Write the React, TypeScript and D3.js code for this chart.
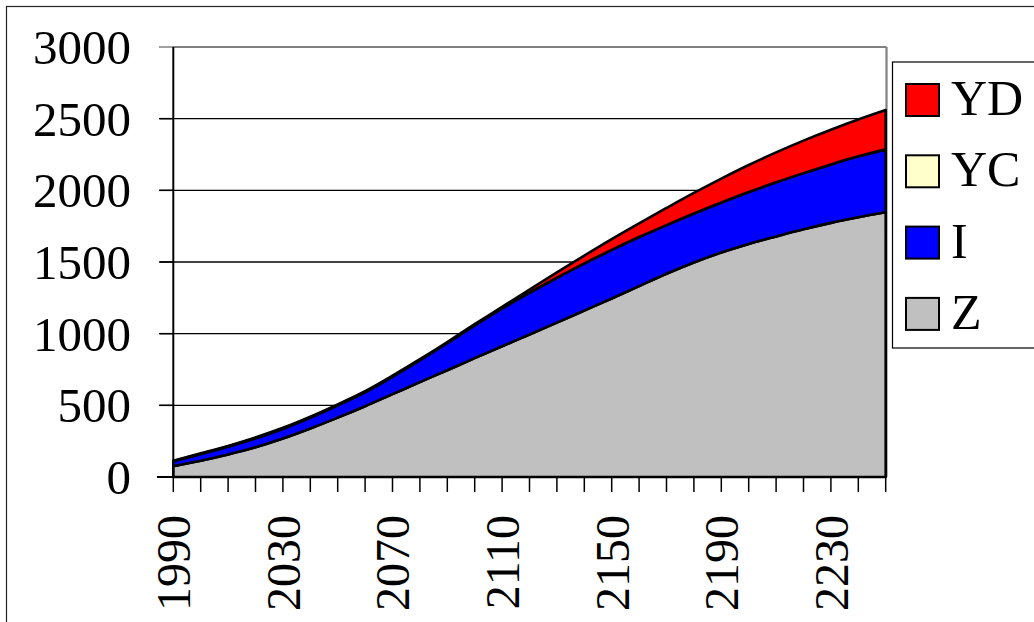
import React from "react";
import * as d3 from "d3";

const years = [1990, 2000, 2010, 2020, 2030, 2040, 2050, 2060, 2070, 2080, 2090, 2100, 2110, 2120, 2130, 2140, 2150, 2160, 2170, 2180, 2190, 2200, 2210, 2220, 2230, 2240, 2250];
const Z = [75, 113, 157, 207, 268, 338, 414, 494, 578, 662, 745, 829, 912, 994, 1077, 1161, 1245, 1332, 1418, 1497, 1566, 1626, 1678, 1728, 1773, 1812, 1847];
const I = [35, 47, 55, 63, 69, 77, 86, 98, 122, 153, 190, 229, 264, 292, 313, 329, 340, 342, 339, 341, 349, 362, 378, 392, 408, 425, 439];
const YC = [0, 0, 0, 0, 0, 0, 0, 0, 0, 0, 0, 0, 0, 0, 0, 0, 0, 0, 0, 0, 0, 0, 0, 0, 0, 0, 0];
const YD = [4, 5, 5, 6, 6, 6, 7, 7, 7, 7, 7, 8, 11, 22, 37, 55, 75, 96, 120, 144, 167, 189, 209, 227, 242, 257, 274];
const yTicks = [0, 500, 1000, 1500, 2000, 2500, 3000];
const xLabels = [1990, 2030, 2070, 2110, 2150, 2190, 2230];
const seriesKeys = ["Z", "I", "YC", "YD"];
const seriesColors: Record<string, string> = { Z: "#C0C0C0", I: "#0000FF", YC: "#FFFFCC", YD: "#FF0000" };
const legendOrder = ["YD", "YC", "I", "Z"];

const FONT = "'Liberation Serif', 'Times New Roman', serif";

export default function App() {
  const x = d3.scaleLinear().domain([1990, 2250]).range([173.3, 885.7]);
  const y = d3.scaleLinear().domain([0, 3000]).range([477, 47]);
  const rows = years.map((yr, i) => ({ year: yr, Z: Z[i], I: I[i], YC: YC[i], YD: YD[i] }));
  const stack = d3.stack<any>().keys(seriesKeys);
  const layers = stack(rows);
  const area = d3
    .area<any>()
    .curve(d3.curveMonotoneX)
    .x((d) => x(d.data.year))
    .y0((d) => y(d[0]))
    .y1((d) => y(d[1]));

  return (
    <svg width={1034} height={622} style={{ position: "absolute", left: 0, top: 0, background: "#fff" }}>
      <rect x={0} y={0} width={1034} height={622} fill="#fff" />
      <rect x={6.5} y={6.5} width={1100} height={700} fill="none" stroke="#222" strokeWidth={1.2} />
      {/* gridlines */}
      {yTicks.slice(1, -1).map((t) => (
        <line key={t} x1={160} x2={885.7} y1={y(t)} y2={y(t)} stroke="#000" strokeWidth={1.3} />
      ))}
      {/* y ticks */}
      {yTicks.map((t) => (
        <line key={"yt" + t} x1={159} x2={173} y1={y(t)} y2={y(t)} stroke={t === 3000 ? "#808080" : "#000"} strokeWidth={1.5} />
      ))}
      {/* plot border top/right */}
      <line x1={173} x2={886.5} y1={47} y2={47} stroke="#808080" strokeWidth={2.2} />
      <line x1={886.5} x2={886.5} y1={47} y2={477} stroke="#808080" strokeWidth={2.2} />
      {/* areas */}
      {layers.map((layer) => (
        <path
          key={layer.key}
          d={area(layer as any) as string}
          fill={seriesColors[layer.key]}
          stroke="#000"
          strokeWidth={2.6}
          strokeLinejoin="round"
        />
      ))}
      {/* axes */}
      <line x1={173.3} x2={173.3} y1={47} y2={477} stroke="#000" strokeWidth={2} />
      <line x1={157} x2={886.5} y1={477} y2={477} stroke="#000" strokeWidth={2} />
      {years.map((yr) => (
        <line key={"xt" + yr} x1={x(yr)} x2={x(yr)} y1={477} y2={492} stroke="#000" strokeWidth={1.5} />
      ))}
      {/* y labels */}
      {yTicks.map((t) => (
        <text key={"yl" + t} x={131} y={y(t)} dy="0.35em" textAnchor="end" fontFamily={FONT} fontSize={49} fill="#000">
          {t}
        </text>
      ))}
      {/* x labels */}
      {xLabels.map((yr) => (
        <text
          key={"xl" + yr}
          transform={`translate(${x(yr)},515) rotate(-90)`}
          dy="0.35em"
          textAnchor="end"
          fontFamily={FONT}
          fontSize={48}
          fill="#000"
        >
          {yr}
        </text>
      ))}
      {/* legend */}
      <rect x={892.5} y={62} width={200} height={286} fill="#fff" stroke="#000" strokeWidth={1.2} />
      {legendOrder.map((k, i) => {
        const top = 84 + i * 71.3;
        return (
          <g key={"lg" + k}>
            <rect x={906} y={top} width={33} height={32} fill={seriesColors[k]} stroke="#000" strokeWidth={2} />
            <text x={951} y={top + 31} fontFamily={FONT} fontSize={50} fill="#000">
              {k}
            </text>
          </g>
        );
      })}
    </svg>
  );
}
